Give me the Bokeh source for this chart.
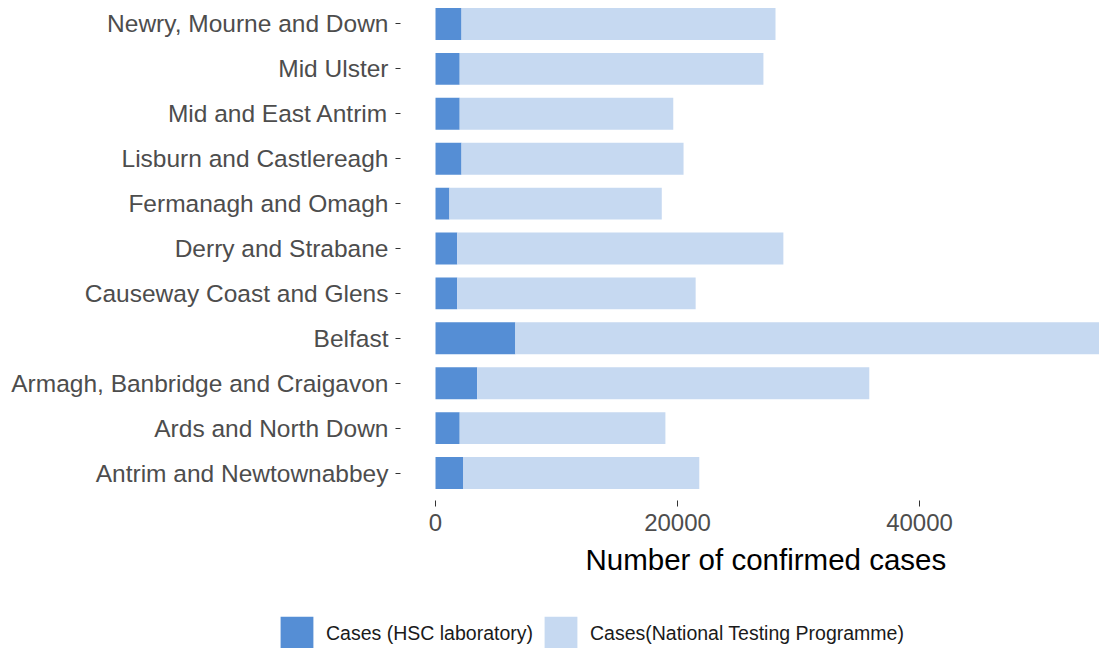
import numpy as np
from bokeh.plotting import figure
from bokeh.models import ColumnDataSource, Range1d, FixedTicker, Legend, LegendItem, Title
from bokeh.embed import file_html
from bokeh.resources import INLINE

# Categories listed bottom to top
districts = [
    "Antrim and Newtownabbey",
    "Ards and North Down",
    "Armagh, Banbridge and Craigavon",
    "Belfast",
    "Causeway Coast and Glens",
    "Derry and Strabane",
    "Fermanagh and Omagh",
    "Lisburn and Castlereagh",
    "Mid and East Antrim",
    "Mid Ulster",
    "Newry, Mourne and Down",
]
hsc_cases = [2300, 2000, 3450, 6600, 1800, 1800, 1150, 2150, 2000, 2000, 2150]
total_cases = [21800, 19000, 35850, 57800, 21500, 28750, 18700, 20500, 19650, 27100, 28100]
ntp_cases = [t - h for t, h in zip(total_cases, hsc_cases)]

series_names = ["Cases (HSC laboratory)", "Cases(National Testing Programme)"]
series_colors = ["#558ED5", "#C6D9F1"]
x_ticks = [0, 20000, 40000]
x_title = "Number of confirmed cases"

FONT = "Liberation Sans"

pos = list(range(len(districts)))
src = ColumnDataSource(dict(y=pos, hsc=hsc_cases, ntp=ntp_cases))

p = figure(width=1099, height=600, output_backend="svg", toolbar_location=None,
           x_range=Range1d(-2893, 54876), y_range=Range1d(-0.612, 10.523),
           min_border_left=400, min_border_right=0, min_border_top=0, min_border_bottom=100)

rs = p.hbar_stack(["hsc", "ntp"], y="y", height=0.71, color=series_colors,
                  line_color=None, source=src)

p.outline_line_color = None
p.xgrid.visible = False
p.ygrid.visible = False
p.background_fill_color = "white"
p.border_fill_color = "white"

# x axis
xa = p.xaxis[0]
xa.ticker = FixedTicker(ticks=x_ticks)
xa.axis_line_color = None
xa.major_tick_out = 6
xa.major_tick_in = 0
xa.minor_tick_line_color = None
xa.major_tick_line_color = "#333333"
xa.major_label_text_font = FONT
xa.major_label_text_font_size = "24px"
xa.major_label_text_color = "#4D4D4D"
xa.major_label_standoff = 7

# x axis title, placed like the reference (slightly right of the frame centre)
t = Title(text=x_title, align="left", offset=185, standoff=14,
          text_font=FONT, text_font_size="29.5px", text_font_style="normal",
          text_color="black")
p.add_layout(t, "below")

# y axis
ya = p.yaxis[0]
ya.ticker = FixedTicker(ticks=pos)
ya.major_label_overrides = {i: d for i, d in zip(pos, districts)}
ya.axis_line_color = None
ya.major_tick_out = 5
ya.major_tick_in = 0
ya.minor_tick_line_color = None
ya.major_tick_line_color = "#333333"
ya.major_label_text_font = FONT
ya.major_label_text_font_size = "24.5px"
ya.major_label_text_color = "#4D4D4D"
ya.major_label_standoff = 7

# legend strip below the chart (separate root so it is not frame-aligned)
lf = figure(width=1099, height=48, output_backend="svg", toolbar_location=None,
            x_range=Range1d(-2, -1), y_range=Range1d(-1, 11),
            x_axis_location=None, y_axis_location=None,
            min_border_left=0, min_border_right=0, min_border_top=0, min_border_bottom=0)
lf.outline_line_color = None
lf.xgrid.visible = False
lf.ygrid.visible = False
lr = lf.hbar_stack(["hsc", "ntp"], y="y", height=0.71, color=series_colors,
                   line_color=None, source=src)

lg = Legend(items=[LegendItem(label=n, renderers=[r]) for n, r in zip(series_names, lr)])
lg.orientation = "horizontal"
lg.location = (276, -6)
lg.border_line_color = None
lg.background_fill_alpha = 0
lg.padding = 0
lg.margin = 0
lg.spacing = 7
lg.glyph_width = 41
lg.glyph_height = 42
lg.label_height = 42
lg.label_standoff = 9
lg.label_text_font = FONT
lg.label_text_font_size = "19.5px"
lg.label_text_color = "#1A1A1A"
lf.add_layout(lg)

open("out.html", "w").write(file_html([p, lf], INLINE))
